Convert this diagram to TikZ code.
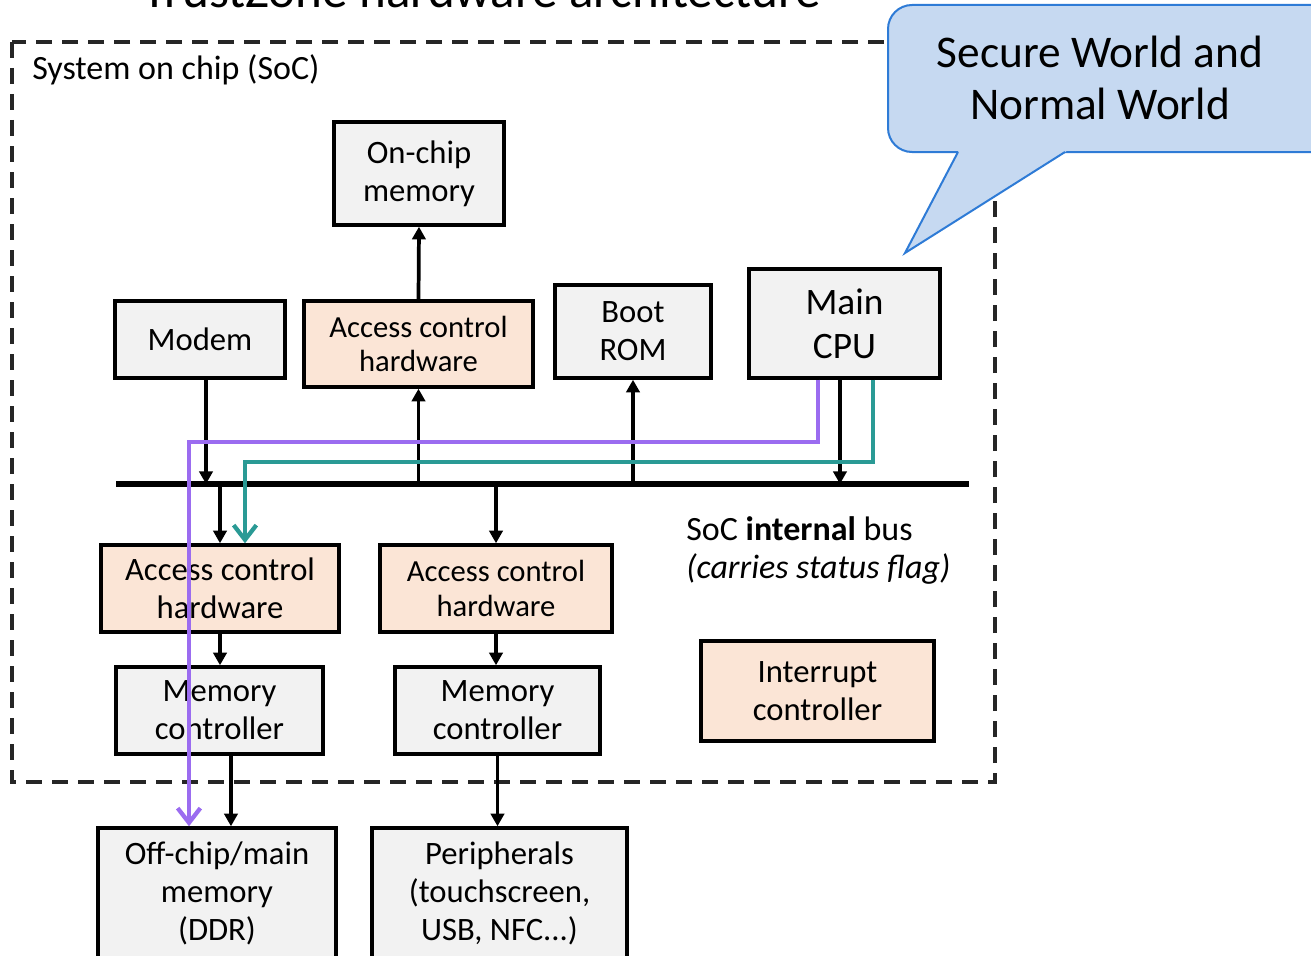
\documentclass[tikz,border=0pt]{standalone}
\usepackage{fontspec}
\setmainfont{Carlito}
\usetikzlibrary{arrows.meta,shadows}
\definecolor{boxgray}{HTML}{F2F2F2}
\definecolor{peach}{HTML}{FBE5D6}
\definecolor{calfill}{HTML}{C6D9F1}
\definecolor{calline}{HTML}{2E7BD6}
\definecolor{purp}{HTML}{9B6CF0}
\definecolor{tealc}{HTML}{2A9A95}
\begin{document}
\begin{tikzpicture}[x=0.75pt,y=-0.75pt,
  base/.style={draw=black, line width=2.6pt, inner sep=0pt, align=center,
    font=\fontsize{24.5}{28.5}\selectfont,
    drop shadow={shadow xshift=1.5pt, shadow yshift=-1.5pt, opacity=0.18, fill=black}},
  graybox/.style={base, fill=boxgray},
  peachbox/.style={base, fill=peach},
  smalltext/.style={font=\fontsize{23}{26}\selectfont},
  sz/.style 2 args={minimum width=#1*0.75pt, minimum height=#2*0.75pt},
  arr/.style={line width=2.8pt, -{Triangle[length=9.5pt,width=10pt]}},
  purpline/.style={draw=purp, line width=3.2pt, -{Straight Barb[length=11pt,width=17pt]}},
  tealline/.style={draw=tealc, line width=3.2pt, -{Straight Barb[length=11pt,width=17pt]}},
  busline/.style={line width=4pt},
  socframe/.style={line width=3pt, dash pattern=on 12pt off 7.5pt, draw=black!85},
  calloutfill/.style={fill=calfill},
  calloutedge/.style={draw=calline, line width=1.5pt, line join=miter},
  plain/.style={inner sep=0pt, font=\fontsize{25.5}{28.5}\selectfont}
]
\useasboundingbox (0,0) rectangle (1311,956);

% title (cut by the page edge)
\node[inner sep=0pt, anchor=base, font=\fontsize{38.3}{40}\selectfont] (title) at (482,8) {TrustZone hardware architecture};

% SoC frame
\draw[socframe] (12,42) rectangle (995,782);
\node[plain, anchor=west] (soclabel) at (32,70) {System on chip (SoC)};

% boxes
\node[graybox, sz={170}{103}] (onchip) at (419,173.5) {On-chip\\memory};
\node[graybox, sz={170}{77}] (modem) at (200,339.5) {Modem};
\node[peachbox, smalltext, sz={229}{86}] (acctop) at (418.5,344) {Access control\\hardware};
\node[graybox, sz={156}{93}] (bootrom) at (633,331.5) {Boot\\ROM};
\node[graybox, sz={191}{109}, font=\fontsize{28}{33}\selectfont] (cpu) at (844.5,323.5) {Main\\CPU};

\node[peachbox, sz={238}{87}] (accl) at (220,588.5) {Access control\\hardware};
\node[peachbox, smalltext, sz={232}{87}] (accm) at (496,588.5) {Access control\\hardware};
\node[graybox, sz={207}{87}] (mcl) at (219.5,710.5) {Memory\\controller};
\node[graybox, sz={205}{87}] (mcm) at (497.5,710.5) {Memory\\controller};
\node[peachbox, sz={233}{100}] (intc) at (817.5,691) {Interrupt\\controller};

\node[graybox, sz={238}{130}] (ddr) at (217,893) {Off-chip/main\\memory\\(DDR)};
\node[graybox, sz={255}{130}] (periph) at (499.5,893) {Peripherals\\(touchscreen,\\USB, NFC...)};

% bus
\coordinate (busL) at (116,484);
\coordinate (busR) at (969,484);
\draw[busline] (busL) -- (busR);
\node[plain, anchor=west, align=left] (buslabel) at (686,550)
  {SoC \textbf{internal} bus\\\textit{(carries status flag)}};

% black arrows
\draw[arr] (acctop.north) -- (onchip.south);
\draw[arr] (acctop.south |- busL) -- (acctop.south);
\draw[arr] ([xshift=4.5pt]modem.south) -- ([xshift=4.5pt]modem.south |- busL);
\draw[arr] (bootrom.south |- busL) -- (bootrom.south);
\draw[arr] ([xshift=-3.4pt]cpu.south) -- ([xshift=-3.4pt]cpu.south |- busL);
\draw[arr] (accl.north |- busL) -- (accl.north);
\draw[arr] (accm.north |- busL) -- (accm.north);
\draw[arr] (accl.south) -- (accl.south |- mcl.north);
\draw[arr] (accm.south) -- (accm.south |- mcm.north);
\draw[arr] ([xshift=8.6pt]mcl.south) -- ([xshift=8.6pt]mcl.south |- ddr.north);
\draw[arr] (mcm.south) -- (mcm.south |- periph.north);

% coloured paths
\coordinate (pturn) at (189,442);
\coordinate (tturn) at (245,462);
\draw[purpline] ([xshift=-19.9pt]cpu.south) |- (pturn) -- (pturn |- ddr.north);
\draw[tealline] ([xshift=21.4pt]cpu.south) |- (tturn) -- (tturn |- accl.north);

% callout
\draw[calloutfill, calloutedge, rounded corners=18pt] (888,5) rectangle (1340,152);
\fill[calloutfill] (959.6,149) -- (905,253) -- (1069.8,149) -- cycle;
\draw[calloutedge] (958,152) -- (905,253) -- (1065,152);
\node[inner sep=0pt, align=center, font=\fontsize{34}{39}\selectfont] (calltext) at (1100,78)
  {Secure World and\\Normal World};
\end{tikzpicture}
\end{document}
